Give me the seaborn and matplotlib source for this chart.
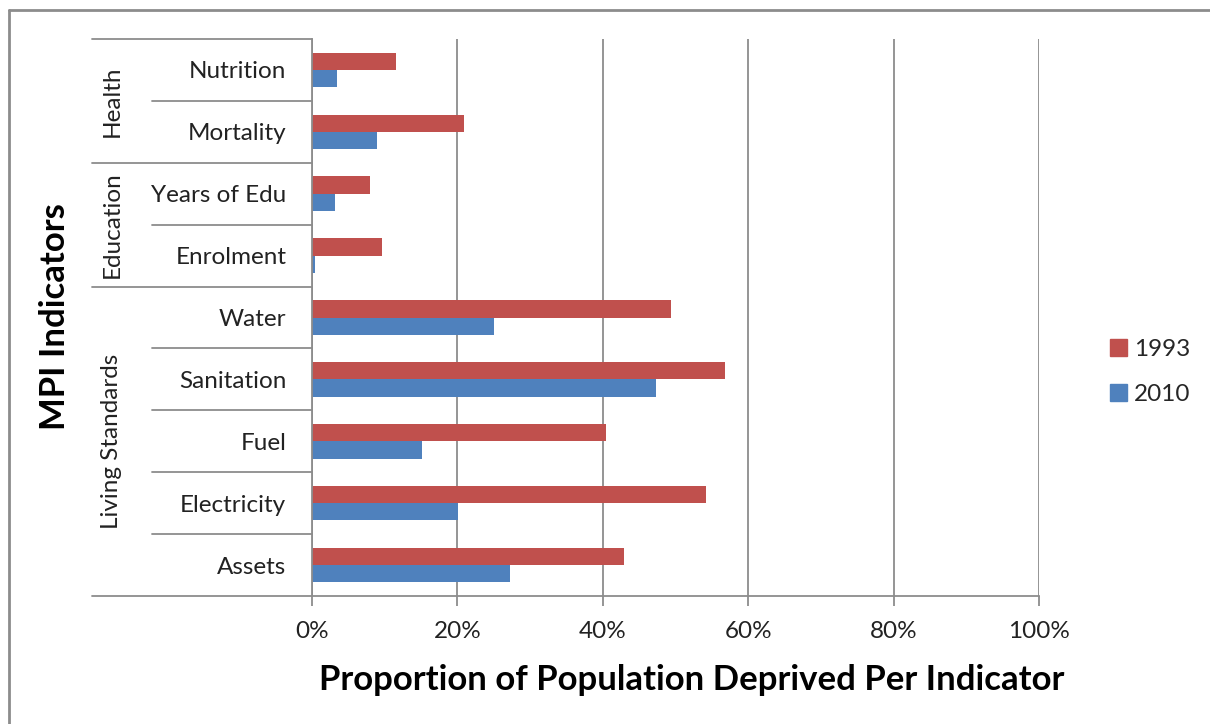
import matplotlib
matplotlib.use("Agg")
import matplotlib.pyplot as plt
import matplotlib.transforms as mtransforms
from matplotlib.lines import Line2D
from matplotlib.ticker import PercentFormatter
import seaborn as sns
import pandas as pd

indicators = ["Nutrition", "Mortality", "Years of Edu", "Enrolment", "Water",
              "Sanitation", "Fuel", "Electricity", "Assets"]
values_1993 = [11.5, 20.9, 8.0, 9.6, 49.4, 56.8, 40.4, 54.2, 42.9]
values_2010 = [3.4, 8.9, 3.1, 0.45, 25.1, 47.3, 15.1, 20.1, 27.2]
years = ["1993", "2010"]
groups = ["Health", "Education", "Living Standards"]
group_spans = [(0, 1), (2, 3), (4, 8)]
x_ticks = [0, 20, 40, 60, 80, 100]

colors = {"1993": "#C0504D", "2010": "#4F81BD"}

df = pd.DataFrame({
    "Indicator": indicators * 2,
    "Year": ["1993"] * len(indicators) + ["2010"] * len(indicators),
    "Value": values_1993 + values_2010,
})

sns.set_theme(style="white")
plt.rcParams["font.family"] = ["Lato", "DejaVu Sans"]

W, H = 1210, 724
fig = plt.figure(figsize=(W / 100, H / 100), dpi=100)
x0, x1, ytop, ybot = 312, 1039, 39, 596
ax = fig.add_axes([x0 / W, 1 - ybot / H, (x1 - x0) / W, (ybot - ytop) / H])

sns.barplot(data=df, y="Indicator", x="Value", hue="Year", order=indicators,
            hue_order=years, palette=colors, orient="h", width=0.56,
            ax=ax, legend=False, saturation=1, edgecolor="none")

ax.set_xlim(0, 100)
ax.set_ylim(len(indicators) - 0.5, -0.5)
ax.set_xticks(x_ticks)
ax.xaxis.set_major_formatter(PercentFormatter(decimals=0))
ax.grid(axis="x", color="#8c8c8c", linewidth=1.3)
ax.set_axisbelow(True)
for s in ["top", "right"]:
    ax.spines[s].set_visible(False)
for s in ["left", "bottom"]:
    ax.spines[s].set_color("#8c8c8c")
    ax.spines[s].set_linewidth(1.3)
ax.tick_params(axis="x", bottom=True, length=7, width=1.3, color="#8c8c8c",
               labelsize=17.5, pad=11, labelcolor="#222222")
ax.tick_params(axis="y", left=False, labelsize=17.5, pad=12.5, labelcolor="#222222")
ax.set_ylabel("")

# label table lines
trans = mtransforms.blended_transform_factory(ax.transAxes, ax.transData)
full_x = (92 - x0) / (x1 - x0)
inner_x = (152 - x0) / (x1 - x0)
full_bounds = [-0.5, 1.5, 3.5, 8.5]
inner_bounds = [0.5, 2.5, 4.5, 5.5, 6.5, 7.5]
for b in full_bounds:
    ax.add_line(Line2D([full_x, 0], [b, b], transform=trans, color="#8c8c8c",
                       lw=1.3, clip_on=False))
for b in inner_bounds:
    ax.add_line(Line2D([inner_x, 0], [b, b], transform=trans, color="#8c8c8c",
                       lw=1.3, clip_on=False))

group_x = (112 - x0) / (x1 - x0)
for g, (a, b) in zip(groups, group_spans):
    ax.text(group_x, (a + b) / 2, g, transform=trans, rotation=90,
            ha="center", va="center", fontsize=17.5, color="#222222")

ax.set_xlabel("Proportion of Population Deprived Per Indicator",
              fontsize=25, fontweight="bold", color="black")
ax.xaxis.set_label_coords((692 - x0) / (x1 - x0), -(680 - ybot) / (ybot - ytop))
ax.xaxis.label.set_va("center")

fig.text(55 / W, 1 - 317 / H, "MPI Indicators", rotation=90, ha="center",
         va="center", fontsize=25, fontweight="bold", color="black")

handles = [plt.Rectangle((0, 0), 1, 1, color=colors[y]) for y in years]
fig.legend(handles, years, loc="center left", bbox_to_anchor=(1110 / W, 1 - 372 / H),
           frameon=False, fontsize=17.5, handlelength=0.7, handleheight=0.7,
           handletextpad=0.3, labelspacing=0.95, borderaxespad=0, borderpad=0)

# outer border (top and left visible)
fig.add_artist(Line2D([9 / W, 9 / W], [0, 1 - 10 / H], color="#8c8c8c", lw=2,
                      transform=fig.transFigure))
fig.add_artist(Line2D([9 / W, 1], [1 - 10 / H, 1 - 10 / H], color="#8c8c8c", lw=2,
                      transform=fig.transFigure))

fig.savefig("out.png", dpi=100)
